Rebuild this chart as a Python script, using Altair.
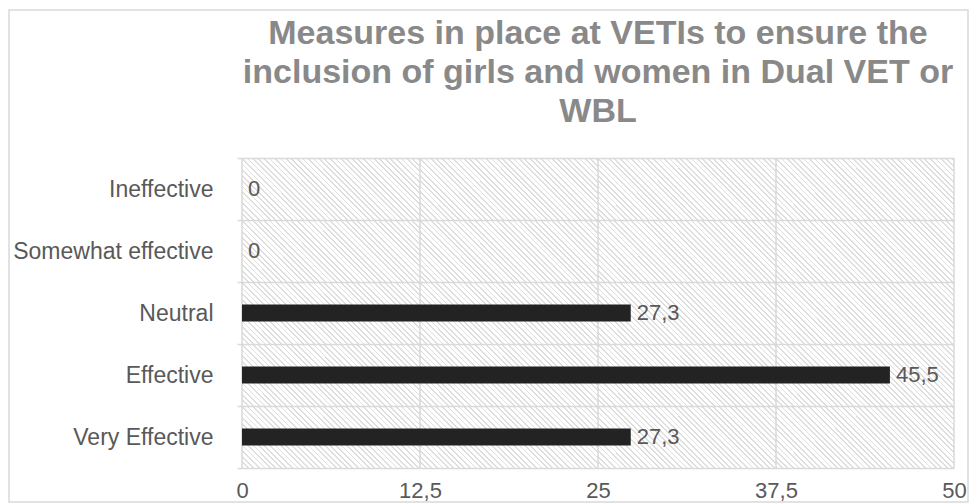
import altair as alt
import pandas as pd

# Survey responses (percent of respondents)
categories = ["Ineffective", "Somewhat effective", "Neutral", "Effective", "Very Effective"]
values = [0, 0, 27.3, 45.5, 27.3]
x_ticks = [0, 12.5, 25, 37.5, 50]

title_lines = [
    "Measures in place at VETIs to ensure the",
    "inclusion of girls and women in Dual VET or",
    "WBL",
]

W, H = 712, 310
FONT = "Liberation Sans"
GRID = "#d9d9d9"
TEXT = "#595959"


def label_of(v):
    return ("%g" % v).replace(".", ",")


df = pd.DataFrame({"category": categories, "value": values})
df["label"] = [label_of(v) for v in values]
ticks_df = pd.DataFrame({"tick": x_ticks})

# One background cell per grid cell (tick interval x category row)
cells = pd.DataFrame(
    [
        {"category": c, "x0": x_ticks[i], "x1": x_ticks[i + 1]}
        for c in categories
        for i in range(len(x_ticks) - 1)
    ]
)

# Diagonal hatch for each cell, as a hard-stop linear gradient in the
# cell's bounding box (stripes run top-left to bottom-right).
cw = W / (len(x_ticks) - 1)
ch = H / len(categories)
period = 5.5
line_frac = 0.36
span = cw + ch
stops = []
k = 0
while k * period < span:
    t0 = k * period / span
    t1 = min(1.0, (k * period + line_frac * period) / span)
    stops += [
        {"offset": round(t0, 5), "color": "#ffffff"},
        {"offset": round(t0, 5), "color": "#dedede"},
        {"offset": round(t1, 5), "color": "#dedede"},
        {"offset": round(t1, 5), "color": "#ffffff"},
    ]
    k += 1
s = span * cw / (cw * cw + ch * ch)
hatch = {
    "gradient": "linear",
    "x1": 0, "y1": 1,
    "x2": round(s, 5), "y2": round(1 - s * ch / cw, 5),
    "stops": stops,
}

one = alt.Data(values=[{"k": 1}])

x_scale = alt.Scale(domain=[0, 50], nice=False, zero=True)
y_scale = alt.Scale(paddingInner=0, paddingOuter=0)
y_sort = categories

background = alt.Chart(cells).mark_rect(fill=hatch, strokeWidth=0).encode(
    x=alt.X("x0:Q", scale=x_scale),
    x2="x1:Q",
    y=alt.Y("category:N", sort=y_sort, scale=y_scale),
)

frame = alt.Chart(one).mark_rect(
    fill="transparent", stroke=GRID, strokeWidth=1.5
).encode(
    x=alt.value(-233), x2=alt.value(726), y=alt.value(-148), y2=alt.value(344)
)

vgrid = alt.Chart(ticks_df).mark_rule(color=GRID, strokeWidth=1.5).encode(
    x=alt.X("tick:Q", scale=x_scale),
    y=alt.value(0),
    y2=alt.value(H),
)

bars = alt.Chart(df).mark_bar(color="#232323", size=17).encode(
    x=alt.X(
        "value:Q",
        scale=x_scale,
        title=None,
        axis=alt.Axis(
            values=x_ticks,
            format=".1~f",
            grid=False,
            domain=False,
            ticks=False,
            tickSize=0,
            labelPadding=12,
            labelFlush=False,
            labelFontSize=22,
            labelExpr="replace(datum.label, '.', ',')",
        ),
    ),
    y=alt.Y(
        "category:N",
        sort=y_sort,
        scale=y_scale,
        title=None,
        axis=alt.Axis(
            domain=False,
            grid=True,
            gridColor=GRID,
            gridWidth=1.5,
            ticks=True,
            tickBand="extent",
            tickColor=GRID,
            tickWidth=1.5,
            tickSize=5,
            labelPadding=24,
            labelFontSize=23,
            labelLimit=400,
            zindex=1,
        ),
    ),
)

labels = alt.Chart(df).mark_text(
    align="left", baseline="middle", dx=6, font=FONT, fontSize=22, color=TEXT
).encode(
    x=alt.X("value:Q", scale=x_scale),
    y=alt.Y("category:N", sort=y_sort, scale=y_scale),
    text="label:N",
)

chart = (
    alt.layer(frame, background, vgrid, bars, labels)
    .properties(
        width=W,
        height=H,
        title=alt.Title(
            text=title_lines,
            anchor="middle",
            font=FONT,
            fontSize=34,
            fontWeight="bold",
            color="#898989",
            lineHeight=39,
            baseline="bottom",
            offset=0,
            dy=154,
        ),
        background="white",
        padding={"left": 242, "top": 158, "right": 16, "bottom": 35},
        autosize=alt.AutoSizeParams(type="none"),
    )
    .configure_view(stroke=None)
    .configure_axis(
        labelFont=FONT,
        labelColor=TEXT,
    )
)

chart.save("out.html", embed_options={"renderer": "svg", "actions": False})
